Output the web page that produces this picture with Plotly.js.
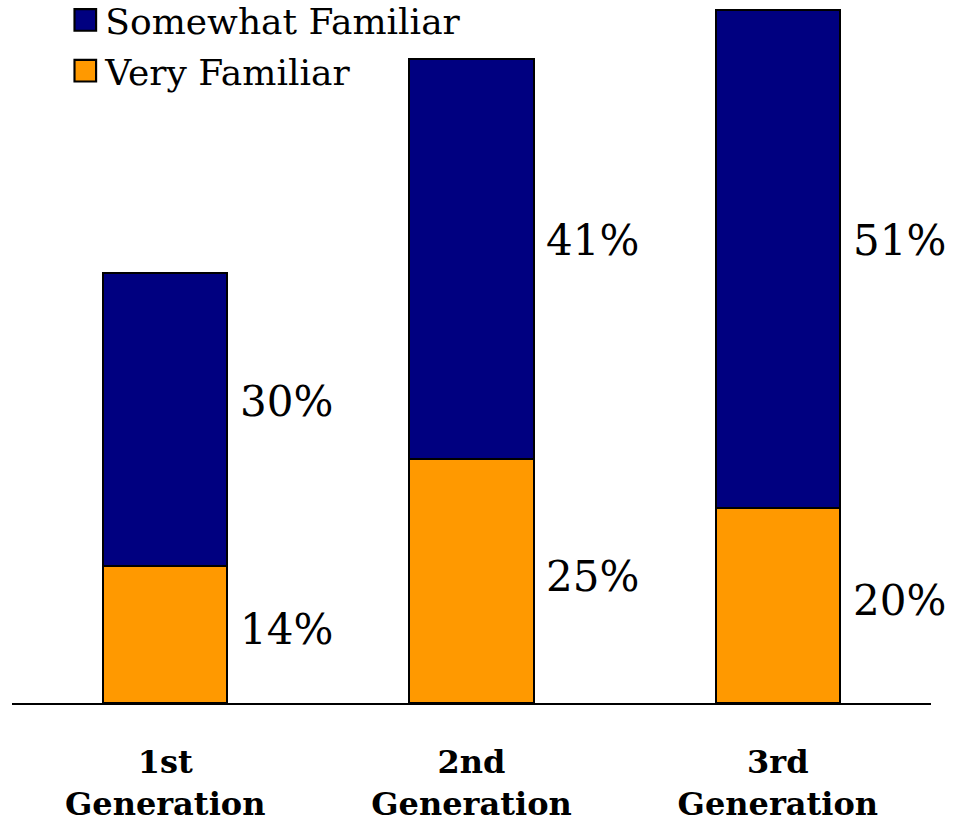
<!DOCTYPE html>
<html>
<head>
<meta charset="utf-8">
<script src="https://cdn.plot.ly/plotly-3.0.1.min.js"></script>
<style>
html,body{margin:0;padding:0;background:#fff;}
#chart{width:957px;height:822px;}
</style>
</head>
<body>
<div id="chart"></div>
<script>
var categories = ["1st<br>Generation", "2nd<br>Generation", "3rd<br>Generation"];
var veryFamiliar = [14, 25, 20];
var somewhatFamiliar = [30, 41, 51];
var seriesNames = ["Very Familiar", "Somewhat Familiar"];

var barWidth = 0.405;
var serif = "DejaVu Serif, Liberation Serif, serif";

var traces = [
  {
    type: "bar", name: seriesNames[0], x: [0, 1, 2], y: veryFamiliar,
    width: barWidth, legendgroup: "a", legendrank: 2,
    marker: {color: "#FF9900", line: {color: "#000000", width: 2}},
    hoverinfo: "none"
  },
  {
    type: "bar", name: seriesNames[1], x: [0, 1, 2], y: somewhatFamiliar,
    width: barWidth, legendgroup: "b", legendrank: 1,
    marker: {color: "#000080", line: {color: "#000000", width: 2}},
    hoverinfo: "none"
  }
];

var annotations = [];
for (var i = 0; i < categories.length; i++) {
  annotations.push({
    x: i + barWidth / 2 + 0.035, y: veryFamiliar[i] / 2 + 0.5,
    xref: "x", yref: "y", xanchor: "left", yanchor: "middle",
    text: veryFamiliar[i] + "%", showarrow: false,
    font: {family: serif, size: 42, color: "#000"}
  });
  annotations.push({
    x: i + barWidth / 2 + 0.035, y: veryFamiliar[i] + somewhatFamiliar[i] / 2 + 1.9,
    xref: "x", yref: "y", xanchor: "left", yanchor: "middle",
    text: somewhatFamiliar[i] + "%", showarrow: false,
    font: {family: serif, size: 42, color: "#000"}
  });
}

var layout = {
  width: 957, height: 822,
  margin: {l: 12, r: 26, t: 0, b: 119, autoexpand: false},
  paper_bgcolor: "#ffffff", plot_bgcolor: "#ffffff",
  barmode: "stack",
  showlegend: true,
  legend: {
    x: 0.058, y: 1.0142, xanchor: "left", yanchor: "top",
    traceorder: "grouped",
    tracegroupgap: 1,
    font: {family: serif, size: 36, color: "#000"},
    bgcolor: "rgba(0,0,0,0)",
    itemwidth: 30
  },
  xaxis: {
    range: [-0.5, 2.5],
    tickmode: "array", tickvals: [0, 1, 2], ticktext: categories,
    showline: true, linecolor: "#000", linewidth: 2,
    showgrid: false, zeroline: false, ticks: "",
    ticklabelstandoff: 30,
    tickfont: {family: serif, size: 32, color: "#000", weight: "bold"}
  },
  yaxis: {
    range: [0, 72.0],
    visible: false, showgrid: false, zeroline: false
  },
  annotations: annotations
};

Plotly.newPlot("chart", traces, layout, {staticPlot: true}).then(function (gd) {
  var pts = gd.querySelectorAll(".legendpoints path");
  pts.forEach(function (p) {
    var t = p.getAttribute("transform") || "";
    p.setAttribute("transform", t + " scale(1.8)");
    p.style.strokeWidth = "1.2px";
  });
});
</script>
</body>
</html>
